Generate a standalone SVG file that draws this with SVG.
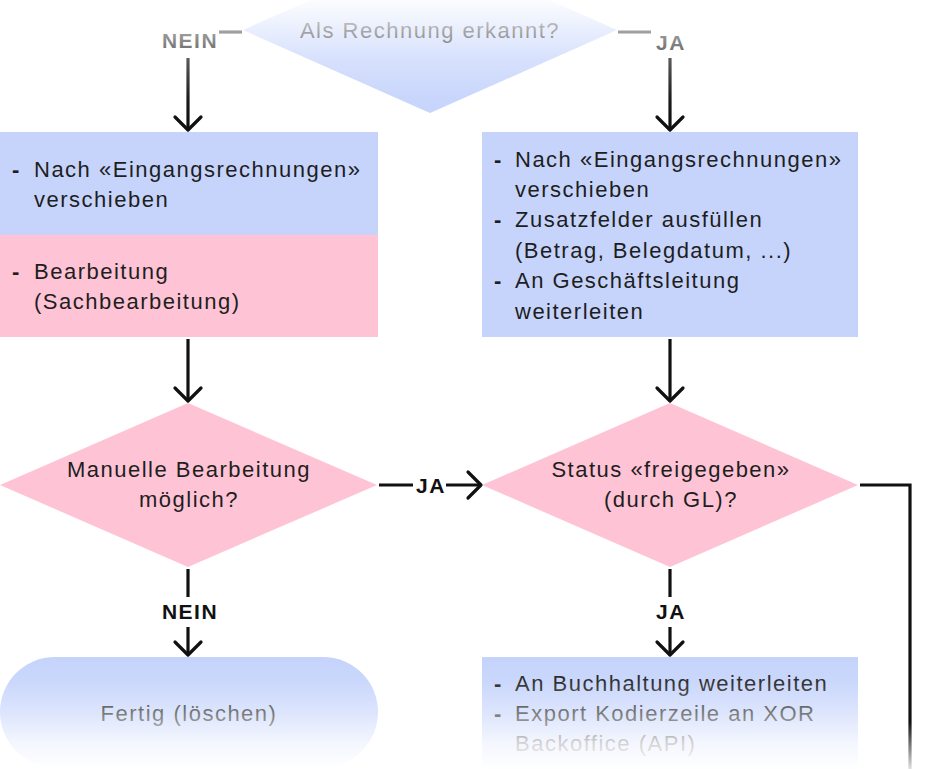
<svg xmlns="http://www.w3.org/2000/svg" width="940" height="769" viewBox="0 0 940 769">
<defs>
<style>
.t{font-family:"Liberation Sans",Arial,sans-serif;font-size:22px;fill:#1e1e1e;letter-spacing:1.5px}
.c{text-anchor:middle}
.d{font-family:"Liberation Sans",Arial,sans-serif;font-size:22px;font-weight:bold;fill:#1e1e1e}
.lb{font-family:"Liberation Sans",Arial,sans-serif;font-size:21px;font-weight:bold;fill:#111;text-anchor:middle;letter-spacing:1.5px}
.blue{fill:#c6d4fc}
.pink{fill:#fec4d5}
.ln{stroke:#111;stroke-width:3.2;fill:none}
</style>
<marker id="ah" viewBox="0 0 20 32" refX="17" refY="16" markerWidth="20" markerHeight="32" markerUnits="userSpaceOnUse" orient="auto">
<path d="M4,3 L17,16 L4,29" fill="none" stroke="#111" stroke-width="3.2" stroke-linecap="round" stroke-linejoin="round"/>
</marker>
<linearGradient id="fadeTop" x1="0" y1="0" x2="0" y2="120" gradientUnits="userSpaceOnUse">
<stop offset="0" stop-color="#fff" stop-opacity="0.95"/>
<stop offset="0.25" stop-color="#fff" stop-opacity="0.62"/>
<stop offset="0.5" stop-color="#fff" stop-opacity="0.3"/>
<stop offset="0.83" stop-color="#fff" stop-opacity="0.04"/>
<stop offset="1" stop-color="#fff" stop-opacity="0"/>
</linearGradient>
<linearGradient id="fadeBot" x1="0" y1="660" x2="0" y2="769" gradientUnits="userSpaceOnUse">
<stop offset="0" stop-color="#fff" stop-opacity="0"/>
<stop offset="0.2" stop-color="#fff" stop-opacity="0.08"/>
<stop offset="0.48" stop-color="#fff" stop-opacity="0.4"/>
<stop offset="0.76" stop-color="#fff" stop-opacity="0.8"/>
<stop offset="1" stop-color="#fff" stop-opacity="1"/>
</linearGradient>
<linearGradient id="lineFade" x1="0" y1="722" x2="0" y2="769" gradientUnits="userSpaceOnUse">
<stop offset="0" stop-color="#111"/>
<stop offset="1" stop-color="#e0e0e0"/>
</linearGradient>
</defs>
<rect width="940" height="769" fill="#fff"/>

<g id="q1">
<polygon class="blue" points="243,30 430,-53 617,30 430,113"/>
<text class="t c" x="430" y="38">Als Rechnung erkannt?</text>
</g>

<g id="n1">
<rect class="blue" x="0" y="132" width="378" height="103"/>
<rect class="pink" x="0" y="235" width="378" height="102"/>
<text class="d" x="12" y="177">-</text>
<text class="t" x="34" y="177">Nach «Eingangsrechnungen»</text>
<text class="t" x="34" y="207">verschieben</text>
<text class="d" x="12" y="279">-</text>
<text class="t" x="34" y="279">Bearbeitung</text>
<text class="t" x="34" y="309">(Sachbearbeitung)</text>
</g>

<g id="n2">
<rect class="blue" x="482" y="132" width="376" height="205"/>
<text class="d" x="494" y="167">-</text>
<text class="t" x="515" y="167">Nach «Eingangsrechnungen»</text>
<text class="t" x="515" y="197">verschieben</text>
<text class="d" x="494" y="227">-</text>
<text class="t" x="515" y="227">Zusatzfelder ausfüllen</text>
<text class="t" x="515" y="258">(Betrag, Belegdatum, ...)</text>
<text class="d" x="494" y="288">-</text>
<text class="t" x="515" y="288">An Geschäftsleitung</text>
<text class="t" x="515" y="319">weiterleiten</text>
</g>

<g id="q2">
<polygon class="pink" points="0,485 188,403 377,485 188,567"/>
<text class="t c" x="189" y="477">Manuelle Bearbeitung</text>
<text class="t c" x="189" y="507">möglich?</text>
</g>

<g id="q3">
<polygon class="pink" points="482,485 670,403 858,485 670,567"/>
<text class="t c" x="671" y="477">Status «freigegeben»</text>
<text class="t c" x="671" y="507">(durch GL)?</text>
</g>

<g id="n3">
<rect class="blue" x="0" y="657" width="378" height="110" rx="55"/>
<text class="t c" x="189" y="721">Fertig (löschen)</text>
</g>

<g id="n4">
<rect class="blue" x="482" y="657" width="376" height="112"/>
<text class="d" x="494" y="691">-</text>
<text class="t" x="515" y="691">An Buchhaltung weiterleiten</text>
<text class="d" x="494" y="721">-</text>
<text class="t" x="515" y="721">Export Kodierzeile an XOR</text>
<text class="t" x="515" y="751">Backoffice (API)</text>
</g>

<rect x="0" y="660" width="940" height="109" fill="url(#fadeBot)"/>

<g id="connectors">
<path class="ln" d="M242,32 H219"/>
<text class="lb" x="190" y="48">NEIN</text>
<path class="ln" d="M618,32 H651"/>
<text class="lb" x="671" y="50">JA</text>
<path class="ln" d="M188,58 V130" marker-end="url(#ah)"/>
<path class="ln" d="M670,58 V130" marker-end="url(#ah)"/>
<path class="ln" d="M188,339 V401" marker-end="url(#ah)"/>
<path class="ln" d="M670,339 V401" marker-end="url(#ah)"/>
<path class="ln" d="M379,485 H413"/>
<text class="lb" x="431" y="493">JA</text>
<path class="ln" d="M446,485 H481" marker-end="url(#ah)"/>
<path class="ln" d="M188,569 V597"/>
<text class="lb" x="190" y="619">NEIN</text>
<path class="ln" d="M188,627 V655" marker-end="url(#ah)"/>
<path class="ln" d="M670,569 V597"/>
<text class="lb" x="671" y="619">JA</text>
<path class="ln" d="M670,627 V655" marker-end="url(#ah)"/>
<path d="M860,485 H910 V769" stroke="url(#lineFade)" stroke-width="3.2" fill="none"/>
</g>

<rect x="0" y="0" width="940" height="120" fill="url(#fadeTop)"/>
</svg>
